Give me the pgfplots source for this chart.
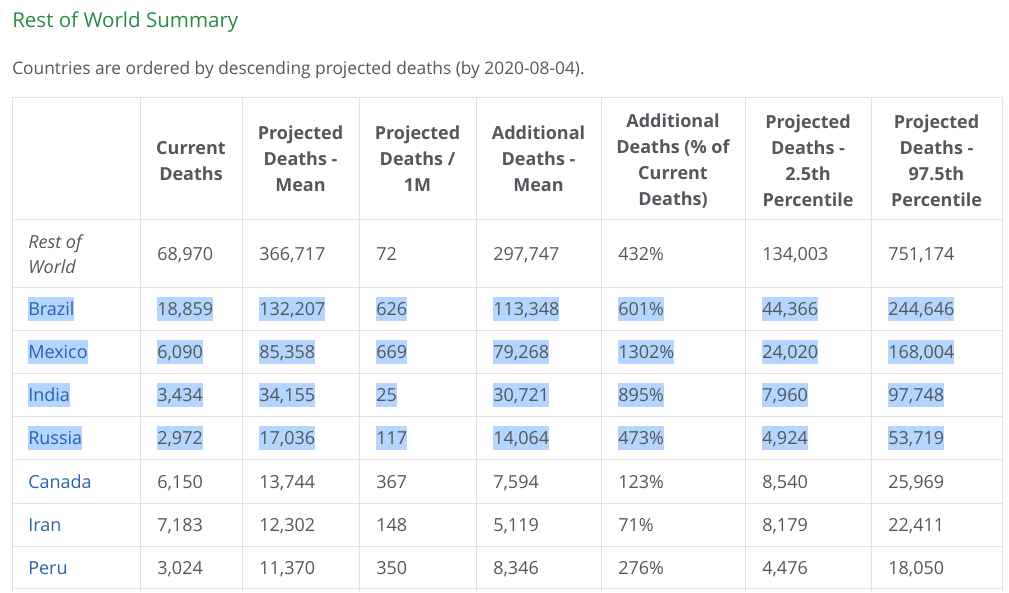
\documentclass[border=0pt]{standalone}
\usepackage{pgfplots}
\pgfplotsset{compat=1.18}
\usepackage{pgfplotstable}
\usepackage{fontspec}
\setmainfont{Open Sans}
\definecolor{txt}{HTML}{53585D}
\definecolor{ttl}{HTML}{2A8B45}
\definecolor{lnk}{HTML}{2A62AE}
\definecolor{sel}{HTML}{B4D5FE}
\definecolor{grd}{HTML}{E2E2E2}
\newcommand\body{\fontsize{13.5}{19.5}\selectfont}

% rows that are not highlighted
\pgfplotstableread{
y cur proj pm add pct lo hi
254 68970 366717 72 297747 432 134003 751174
481.5 6150 13744 367 7594 123 8540 25969
524.5 7183 12302 148 5119 71 8179 22411
567.5 3024 11370 350 8346 276 4476 18050
}\plainrows
% highlighted (selected) rows
\pgfplotstableread{
y cur proj pm add pct lo hi
309 18859 132207 626 113348 601 44366 244646
352 6090 85358 669 79268 1302 24020 168004
395 3434 34155 25 30721 895 7960 97748
438 2972 17036 117 14064 473 4924 53719
}\hlrows
\pgfplotstableread{
y name
309 Brazil
352 Mexico
395 India
438 Russia
}\hlnames
\pgfplotstableread{
y name
481.5 Canada
524.5 Iran
567.5 Peru
}\plainnames

\begin{document}
\begin{tikzpicture}
\begin{axis}[
  scale only axis, width=756.75pt, height=444pt,
  xmin=0, xmax=1009, ymin=0, ymax=592, y dir=reverse,
  axis lines=none, clip=false,
  /pgf/number format/.cd, fixed, precision=0, 1000 sep={,}, assume math mode=true,
  /pgfplots/.cd,
  cell/.style={draw=none, mark=none, nodes near coords, point meta=explicit,
    nodes near coords align={anchor=west},
    every node near coord/.append style={anchor=west, inner sep=0pt,
      text height=13.9pt, text depth=4.1pt, font=\body, text=txt}},
  hlcell/.style={cell, every node near coord/.append style={fill=sel}},
  pctfmt/.style={nodes near coords={\pgfmathprintnumber[1000 sep={}]{\pgfplotspointmeta}\%}},
  namefmt/.style={point meta=explicit symbolic, nodes near coords={\pgfplotspointmeta},
    every node near coord/.append style={text=lnk}},
]
% grid
\pgfplotsinvokeforeach{97,219,287,330,373,416,459,503,546,588}{
  \draw[grd, line width=0.75pt] (axis cs:12,#1) -- (axis cs:1002,#1);}
\pgfplotsinvokeforeach{12,140,242,359,476,601,745,871,1002}{
  \draw[grd, line width=0.75pt] (axis cs:#1,97) -- (axis cs:#1,592);}

% title and subtitle
\node[anchor=base west, inner sep=0pt, font=\fontsize{15.4}{18}\selectfont, text=ttl]
  at (axis cs:12,27.5) {Rest of World Summary};
\node[anchor=base west, inner sep=0pt, font=\fontsize{13}{16}\selectfont, text=txt]
  at (axis cs:12,74.5) {Countries are ordered by descending projected deaths (by 2020-08-04).};

% headers
\tikzset{hdr/.style={font=\bfseries\fontsize{13.5}{19.5}\selectfont, align=center, text=txt, inner sep=0pt}}
\node[hdr] at (axis cs:191,161) {Current\\Deaths};
\node[hdr] at (axis cs:300.5,158.5) {Projected\\Deaths -\\Mean};
\node[hdr] at (axis cs:417.5,158.5) {Projected\\Deaths /\\1M};
\node[hdr] at (axis cs:538.5,158.5) {Additional\\Deaths -\\Mean};
\node[hdr] at (axis cs:673,161) {Additional\\Deaths (\% of\\Current\\Deaths)};
\node[hdr] at (axis cs:808,161) {Projected\\Deaths -\\2.5th\\Percentile};
\node[hdr] at (axis cs:936.5,161) {Projected\\Deaths -\\97.5th\\Percentile};

% Rest of World label
\node[anchor=west, align=left, inner sep=0pt, font=\fontsize{13.5}{18.75}\selectfont\itshape, text=txt]
  at (axis cs:28,254) {Rest of\\World};

% names
\addplot[cell, namefmt] table[x expr=28, y=y, meta=name]{\plainnames};
\addplot[hlcell, namefmt, nodes near coords={\pgfplotspointmeta\hspace{4.5pt}}] table[x expr=28, y=y, meta=name]{\hlnames};

% plain rows
\addplot[cell] table[x expr=157, y=y, meta=cur]{\plainrows};
\addplot[cell] table[x expr=259, y=y, meta=proj]{\plainrows};
\addplot[cell] table[x expr=376, y=y, meta=pm]{\plainrows};
\addplot[cell] table[x expr=493, y=y, meta=add]{\plainrows};
\addplot[cell, pctfmt] table[x expr=618, y=y, meta=pct]{\plainrows};
\addplot[cell] table[x expr=762, y=y, meta=lo]{\plainrows};
\addplot[cell] table[x expr=888, y=y, meta=hi]{\plainrows};

% highlighted rows
\addplot[hlcell] table[x expr=157, y=y, meta=cur]{\hlrows};
\addplot[hlcell] table[x expr=259, y=y, meta=proj]{\hlrows};
\addplot[hlcell] table[x expr=376, y=y, meta=pm]{\hlrows};
\addplot[hlcell] table[x expr=493, y=y, meta=add]{\hlrows};
\addplot[hlcell, pctfmt] table[x expr=618, y=y, meta=pct]{\hlrows};
\addplot[hlcell] table[x expr=762, y=y, meta=lo]{\hlrows};
\addplot[hlcell] table[x expr=888, y=y, meta=hi]{\hlrows};
\end{axis}
\pgfresetboundingbox
\path (current axis.south west) rectangle (current axis.north east);
\end{tikzpicture}
\end{document}
